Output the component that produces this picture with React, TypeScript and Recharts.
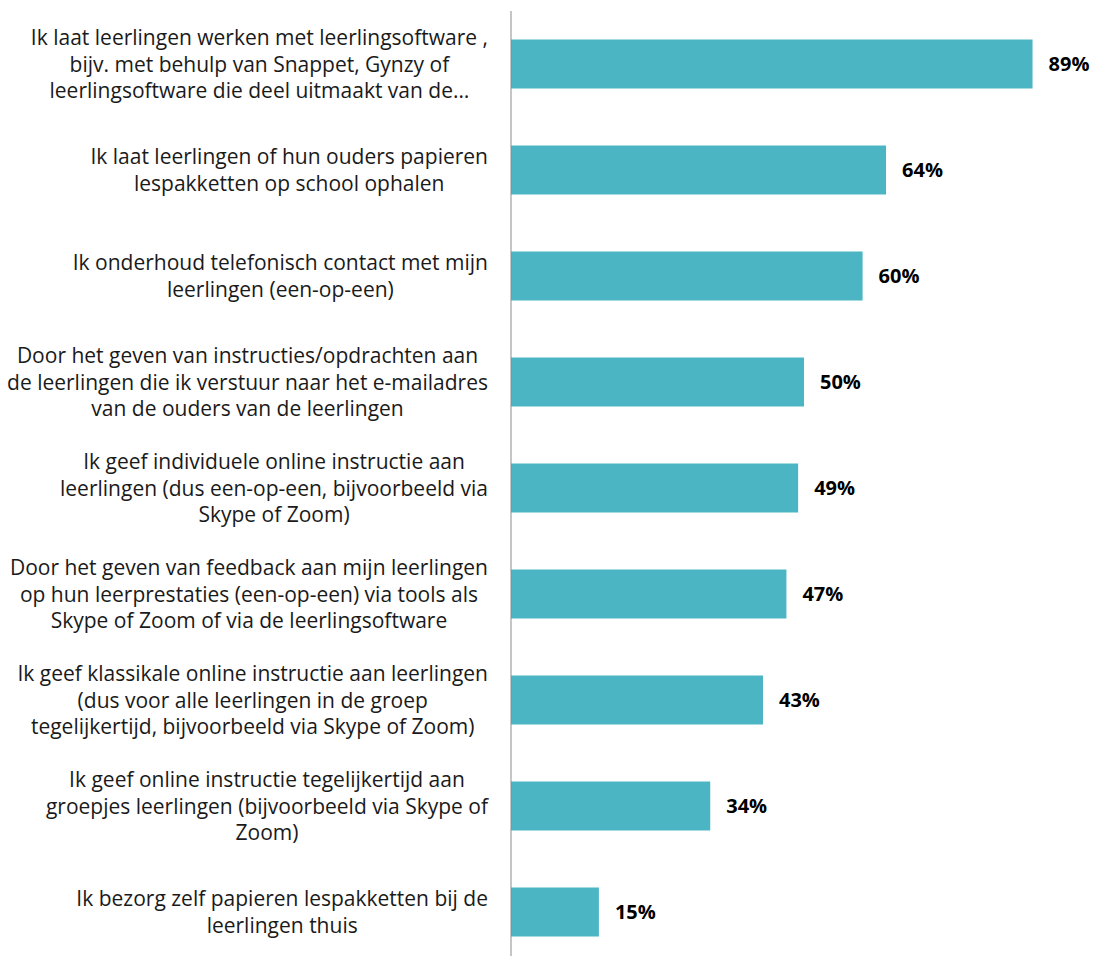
import React from "react";
import { BarChart, Bar, XAxis, YAxis, LabelList } from "recharts";

const categories = [
  "Ik laat leerlingen werken met leerlingsoftware ,\nbijv. met behulp van Snappet, Gynzy of\nleerlingsoftware die deel uitmaakt van de…",
  "Ik laat leerlingen of hun ouders papieren\nlespakketten op school ophalen",
  "Ik onderhoud telefonisch contact met mijn\nleerlingen (een-op-een)",
  "Door het geven van instructies/opdrachten aan\nde leerlingen die ik verstuur naar het e-mailadres\nvan de ouders van de leerlingen",
  "Ik geef individuele online instructie aan\nleerlingen (dus een-op-een, bijvoorbeeld via\nSkype of Zoom)",
  "Door het geven van feedback aan mijn leerlingen\nop hun leerprestaties (een-op-een) via tools als\nSkype of Zoom of via de leerlingsoftware",
  "Ik geef klassikale online instructie aan leerlingen\n(dus voor alle leerlingen in de groep\ntegelijkertijd, bijvoorbeeld via Skype of Zoom)",
  "Ik geef online instructie tegelijkertijd aan\ngroepjes leerlingen (bijvoorbeeld via Skype of\nZoom)",
  "Ik bezorg zelf papieren lespakketten bij de\nleerlingen thuis",
];

const percentages = [89, 64, 60, 50, 49, 47, 43, 34, 15];

const data = categories.map((c, i) => ({ name: c, value: percentages[i] }));

const FONT = "'Open Sans', Lato, sans-serif";
const LABEL_SIZE = 21;
const LINE_H = 26.5;
const LABEL_RIGHT = 488;

let ctx: CanvasRenderingContext2D | null = null;
function textWidth(s: string) {
  if (!ctx) ctx = document.createElement("canvas").getContext("2d");
  if (!ctx) return s.length * 8;
  ctx.font = `${LABEL_SIZE}px ${FONT}`;
  return ctx.measureText(s).width;
}

function CategoryTick(props: any) {
  const { y, payload } = props;
  const lines: string[] = String(payload.value).split("\n");
  const maxW = Math.max(...lines.map(textWidth));
  const cx = LABEL_RIGHT - maxW / 2;
  const startY = y - ((lines.length - 1) * LINE_H) / 2;
  return (
    <text textAnchor="middle" fontFamily={FONT} fontSize={LABEL_SIZE} fill="#1a1a1a">
      {lines.map((l, i) => (
        <tspan key={i} x={cx} y={startY + i * LINE_H} dy="0.36em">
          {l}
        </tspan>
      ))}
    </text>
  );
}

export default function App() {
  return (
    <div style={{ position: "absolute", left: 0, top: 0, width: 1094, height: 956, overflow: "hidden", background: "#fff" }}>
      <BarChart
        width={1100}
        height={966}
        data={data}
        layout="vertical"
        margin={{ top: 11, right: 3, bottom: 1, left: 0 }}
        barCategoryGap="27%"
      >
        <XAxis type="number" domain={[0, 100]} hide />
        <YAxis
          type="category"
          dataKey="name"
          width={511}
          tickLine={false}
          axisLine={{ stroke: "#8c8c8c", strokeWidth: 1 }}
          tick={<CategoryTick />}
          interval={0}
        />
        <Bar dataKey="value" fill="#4BB5C4" isAnimationActive={false}>
          <LabelList
            dataKey="value"
            position="right"
            offset={16}
            formatter={(v: any) => `${v}%`}
            style={{ fontFamily: FONT, fontSize: 20, fontWeight: 700, fill: "#000" }}
          />
        </Bar>
      </BarChart>
    </div>
  );
}
